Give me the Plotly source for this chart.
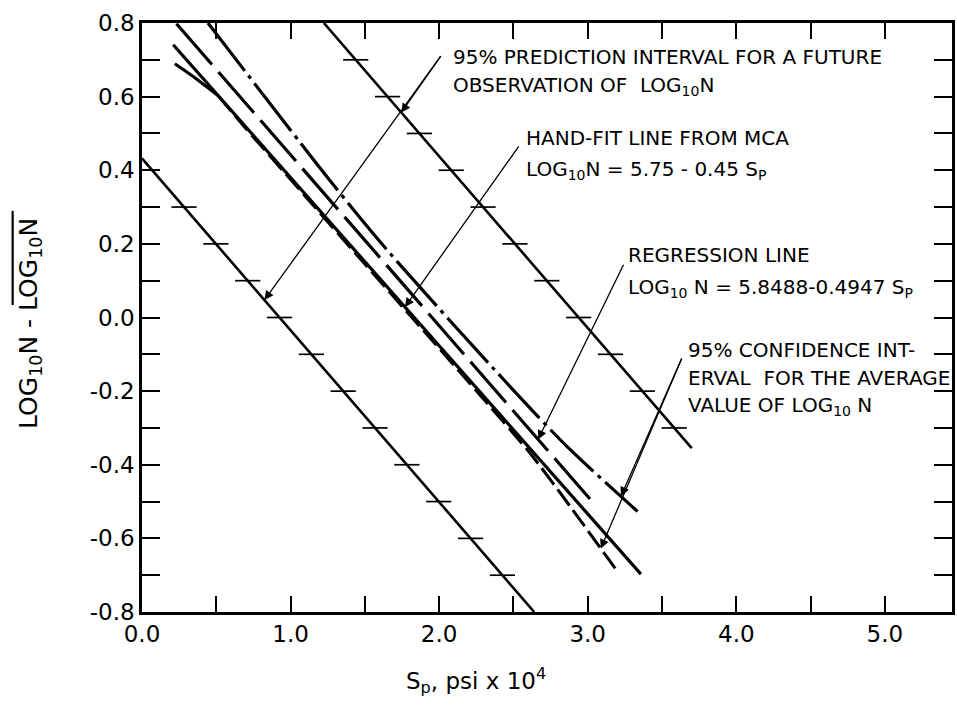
import numpy as np
import plotly.graph_objects as go

# ---------------- data ----------------
# 95% prediction interval for a future observation (two straight limits)
pred_upper_x = [1.224, 3.700]
pred_upper_y = [0.800, -0.355]
pred_lower_x = [0.000, 2.640]
pred_lower_y = [0.432, -0.800]
# levels of the small cross-hatch marks on the prediction limits
hatch_upper_levels = [0.7, 0.6, 0.5, 0.4, 0.3, 0.2, 0.1, 0.0, -0.1, -0.2, -0.3]
hatch_lower_levels = [0.3, 0.2, 0.1, 0.0, -0.1, -0.2, -0.3, -0.4, -0.5, -0.6, -0.7]

# regression line (long dash)
reg_x = [0.232, 3.056]
reg_y = [0.798, -0.512]

# hand-fit line from MCA (solid)
hand_x = [0.210, 3.358]
hand_y = [0.741, -0.697]

# 95% confidence interval for the average value - upper limit (dash-dot)
ucl_x = [0.444, 1.281, 1.672, 2.460, 2.867, 3.336]
ucl_y = [0.800, 0.364, 0.173, -0.180, -0.353, -0.527]

# lower limit: curved solid start, then dashed
lcl_a_x = [0.221, 0.360, 0.511]
lcl_a_y = [0.689, 0.650, 0.603]
lcl_b_x = [0.511, 0.700, 1.100, 1.500, 1.900, 2.300, 2.619, 2.887, 3.190]
lcl_b_y = [0.603, 0.513, 0.329, 0.145, -0.038, -0.222, -0.372, -0.516, -0.684]

# axes ticks
x_major = [0, 1, 2, 3, 4, 5]
x_major_labels = ["0.0", "1.0", "2.0", "3.0", "4.0", "5.0"]
x_minor = [0.5, 1.5, 2.5, 3.5, 4.5]
y_major = [-0.8, -0.6, -0.4, -0.2, 0.0, 0.2, 0.4, 0.6, 0.8]
y_major_labels = ["-0.8", "-0.6", "-0.4", "-0.2", "0.0", "0.2", "0.4", "0.6", "0.8"]
y_minor = [-0.7, -0.5, -0.3, -0.1, 0.1, 0.3, 0.5, 0.7]

FONT = "DejaVu Sans"
BLACK = "black"


def x_at(level, xs, ys):
    return float(np.interp(level, ys[::-1], xs[::-1]))


def y_at(x, xs, ys):
    return float(np.interp(x, xs, ys))


fig = go.Figure()

# prediction limits
for xs, ys in [(pred_upper_x, pred_upper_y), (pred_lower_x, pred_lower_y)]:
    fig.add_trace(go.Scatter(x=xs, y=ys, mode="lines",
                             line=dict(color=BLACK, width=2.6), hoverinfo="skip"))

# hatch marks on prediction limits
hx = [x_at(v, pred_upper_x, pred_upper_y) for v in hatch_upper_levels] + \
     [x_at(v, pred_lower_x, pred_lower_y) for v in hatch_lower_levels]
hy = hatch_upper_levels + hatch_lower_levels
fig.add_trace(go.Scatter(x=hx, y=hy, mode="markers",
                         marker=dict(symbol="line-ew", size=18,
                                     line=dict(color=BLACK, width=1.7)),
                         hoverinfo="skip"))

# hand-fit line (solid)
fig.add_trace(go.Scatter(x=hand_x, y=hand_y, mode="lines",
                         line=dict(color=BLACK, width=3.2), hoverinfo="skip"))
# regression line (long dash)
fig.add_trace(go.Scatter(x=reg_x, y=reg_y, mode="lines",
                         line=dict(color=BLACK, width=3.2, dash="54px,10px"),
                         hoverinfo="skip"))
# upper confidence limit (dash-dot)
fig.add_trace(go.Scatter(x=ucl_x, y=ucl_y, mode="lines",
                         line=dict(color=BLACK, width=3.2, shape="spline",
                                   smoothing=0.8, dash="60px,6px,4px,6px"),
                         hoverinfo="skip"))
# lower confidence limit
fig.add_trace(go.Scatter(x=lcl_a_x, y=lcl_a_y, mode="lines",
                         line=dict(color=BLACK, width=3.0, shape="spline", smoothing=0.6),
                         hoverinfo="skip"))
fig.add_trace(go.Scatter(x=lcl_b_x, y=lcl_b_y, mode="lines",
                         line=dict(color=BLACK, width=3.0, shape="spline",
                                   smoothing=0.6, dash="20px,6px"),
                         hoverinfo="skip"))

# ---------------- annotations ----------------
tf = dict(family=FONT, size=20, color=BLACK)
texts = [
    (2.083, 0.708, "95% PREDICTION INTERVAL FOR A FUTURE"),
    (2.083, 0.630, "OBSERVATION OF\u00a0\u00a0LOG<sub>10</sub>N"),
    (2.572, 0.488, "HAND-FIT LINE FROM MCA"),
    (2.572, 0.400, "LOG<sub>10</sub>N = 5.75 - 0.45 S<sub>P</sub>"),
    (3.255, 0.169, "REGRESSION LINE"),
    (3.255, 0.080, "LOG<sub>10</sub> N = 5.8488-0.4947 S<sub>P</sub>"),
    (3.664, -0.088, "95% CONFIDENCE INT-"),
    (3.664, -0.163, "ERVAL\u00a0 FOR THE AVERAGE"),
    (3.664, -0.240, "VALUE OF LOG<sub>10</sub> N"),
]
for x, y, t in texts:
    fig.add_annotation(x=x, y=y, xref="x", yref="y", text=t, showarrow=False,
                       xanchor="left", yanchor="middle", font=tf)

arrow_style = dict(showarrow=True, arrowhead=2, arrowsize=1.4, arrowwidth=1.3,
                   arrowcolor=BLACK, text="", xref="x", yref="y",
                   axref="x", ayref="y", standoff=0, startstandoff=0)
# prediction interval arrow (two heads)
pa = (2.018, 0.714)
fig.add_annotation(x=0.824, y=y_at(0.824, pred_lower_x, pred_lower_y),
                   ax=pa[0], ay=pa[1], **arrow_style)
fig.add_annotation(x=1.745, y=y_at(1.745, pred_upper_x, pred_upper_y),
                   ax=pa[0], ay=pa[1], **arrow_style)
# hand-fit arrow
fig.add_annotation(x=1.77, y=y_at(1.77, hand_x, hand_y),
                   ax=2.543, ay=0.469, **arrow_style)
# regression arrow
fig.add_annotation(x=2.666, y=y_at(2.666, reg_x, reg_y),
                   ax=3.246, ay=0.1475, **arrow_style)
# confidence interval arrow (two heads)
ca = (3.637, -0.107)
fig.add_annotation(x=3.224, y=y_at(3.224, ucl_x, ucl_y),
                   ax=ca[0], ay=ca[1], **arrow_style)
fig.add_annotation(x=3.088, y=y_at(3.088, lcl_b_x, lcl_b_y),
                   ax=ca[0], ay=ca[1], **arrow_style)

# axis titles
fig.add_annotation(x=2.25, y=-0.116, xref="x", yref="paper",
                   text="S<sub>p</sub>, psi x 10<sup>4</sup>", showarrow=False,
                   xanchor="center", yanchor="middle",
                   font=dict(family=FONT, size=23, color=BLACK))
fig.add_annotation(x=-0.1376, y=0.49, xref="paper", yref="paper",
                   text="LOG<sub>10</sub>N - LOG<sub>10</sub>N",
                   showarrow=False, textangle=-90, xanchor="center", yanchor="middle",
                   font=dict(family=FONT, size=25, color=BLACK))
# overline (mean bar) over the second LOG10N
fig.add_shape(type="line", xref="paper", yref="paper",
              x0=-0.1597, x1=-0.1597, y0=0.5212, y1=0.681,
              line=dict(color=BLACK, width=2.2))

tick_common = dict(ticks="inside", tickwidth=1.8, tickcolor=BLACK,
                   showline=True, linewidth=2.6, linecolor=BLACK, mirror="ticks",
                   showgrid=False, zeroline=False,
                   tickfont=dict(family=FONT, size=23, color=BLACK))

fig.update_layout(
    width=957, height=707,
    margin=dict(l=142, r=2, t=23, b=95),
    paper_bgcolor="white", plot_bgcolor="white",
    showlegend=False,
    xaxis=dict(range=[0, 5.452], tickvals=x_major, ticktext=x_major_labels,
               ticklen=16, ticklabelstandoff=0,
               minor=dict(tickvals=x_minor, ticks="inside", ticklen=16,
                          tickwidth=1.8, tickcolor=BLACK, showgrid=False),
               **tick_common),
    yaxis=dict(range=[-0.8, 0.8], tickvals=y_major, ticktext=y_major_labels,
               ticklen=18, ticklabelstandoff=0,
               minor=dict(tickvals=y_minor, ticks="inside", ticklen=18,
                          tickwidth=1.8, tickcolor=BLACK, showgrid=False),
               **tick_common),
)

fig.write_html("out.html",
               config={"displayModeBar": False},
               post_script="document.body.style.margin='0px';"
                           "document.body.style.padding='0px';"
                           "document.body.style.overflow='hidden';")
